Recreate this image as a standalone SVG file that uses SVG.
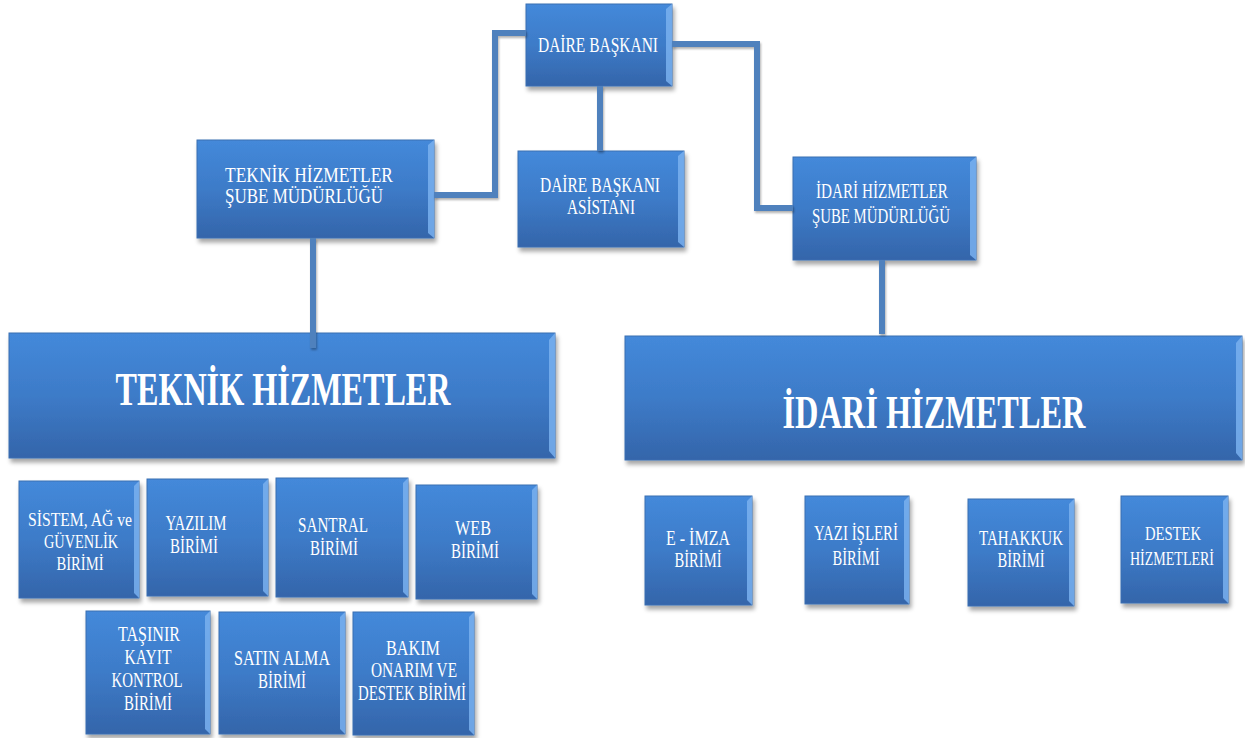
<svg xmlns="http://www.w3.org/2000/svg" width="1245" height="738" viewBox="0 0 1245 738">
<defs>
<linearGradient id="g" x1="0" y1="0" x2="0" y2="1">
<stop offset="0" stop-color="#4489da"/>
<stop offset="0.5" stop-color="#3d7bc8"/>
<stop offset="1" stop-color="#3465aa"/>
</linearGradient>
<filter id="sh" x="-10%" y="-10%" width="125%" height="130%">
<feDropShadow dx="2" dy="4" stdDeviation="2" flood-color="#000" flood-opacity="0.35"/>
</filter>
<filter id="lsh" filterUnits="userSpaceOnUse" x="0" y="0" width="1245" height="738">
<feDropShadow dx="1" dy="2" stdDeviation="1" flood-color="#000" flood-opacity="0.3"/>
</filter>
</defs>
<style>
.box{fill:url(#g);stroke:#3a6fb2;stroke-width:1;filter:url(#sh)}
.bev{fill:#79b0ef;opacity:0.85}
text{font-family:"Liberation Serif","Times New Roman",serif;fill:#fff;text-anchor:middle}
.s{font-size:21px}
.t{font-size:19px}
.m{font-size:20px}
.b{font-size:46px;font-weight:bold}
.con{fill:none;stroke:#4f81bd;stroke-width:6;filter:url(#lsh)}
</style>
<rect width="1245" height="738" fill="#fff"/>

<g id="daire-baskani">
<rect class="box" x="526" y="4" width="146" height="82"/>
<path class="bev" d="M666 9 L672 4 L672 86 L666 81 Z"/>
<text class="m" x="598" y="52" textLength="120" lengthAdjust="spacingAndGlyphs">DAİRE  BAŞKANI</text>
</g>

<g id="daire-baskani-asistani">
<rect class="box" x="518" y="151" width="166" height="96"/>
<path class="bev" d="M678 156 L684 151 L684 247 L678 242 Z"/>
<text class="m" x="600" y="192" textLength="120" lengthAdjust="spacingAndGlyphs">DAİRE  BAŞKANI</text>
<text class="m" x="601" y="214" textLength="68" lengthAdjust="spacingAndGlyphs">ASİSTANI</text>
</g>

<g id="teknik-sube">
<rect class="box" x="197" y="140" width="237" height="98"/>
<path class="bev" d="M428 145 L434 140 L434 238 L428 233 Z"/>
<text class="m" x="309" y="182" textLength="168" lengthAdjust="spacingAndGlyphs">TEKNİK HİZMETLER</text>
<text class="m" x="304" y="203" textLength="158" lengthAdjust="spacingAndGlyphs">ŞUBE MÜDÜRLÜĞÜ</text>
</g>

<g id="idari-sube">
<rect class="box" x="793" y="157" width="183" height="103"/>
<path class="bev" d="M970 162 L976 157 L976 260 L970 255 Z"/>
<text class="m" x="882" y="198" textLength="132" lengthAdjust="spacingAndGlyphs">İDARİ HİZMETLER</text>
<text class="m" x="881" y="223" textLength="138" lengthAdjust="spacingAndGlyphs">ŞUBE  MÜDÜRLÜĞÜ</text>
</g>

<g id="teknik-hizmetler">
<rect class="box" x="9" y="333" width="546" height="125"/>
<path class="bev" d="M549 340 L555 333 L555 458 L549 451 Z"/>
<text class="b" x="283" y="405" textLength="335" lengthAdjust="spacingAndGlyphs">TEKNİK  HİZMETLER</text>
</g>

<g id="idari-hizmetler">
<rect class="box" x="625" y="336" width="617" height="124"/>
<path class="bev" d="M1236 343 L1242 336 L1242 460 L1236 453 Z"/>
<text class="b" x="934" y="428" textLength="303" lengthAdjust="spacingAndGlyphs">İDARİ  HİZMETLER</text>
</g>

<g id="sistem">
<rect class="box" x="19" y="481" width="120" height="117"/>
<path class="bev" d="M134 486 L139 481 L139 598 L134 593 Z"/>
<text class="t" x="80" y="526" textLength="104" lengthAdjust="spacingAndGlyphs">SİSTEM,  AĞ  ve</text>
<text class="t" x="81" y="548" textLength="74" lengthAdjust="spacingAndGlyphs">GÜVENLİK</text>
<text class="t" x="80" y="570" textLength="47" lengthAdjust="spacingAndGlyphs">BİRİMİ</text>
</g>

<g id="yazilim">
<rect class="box" x="147" y="479" width="121" height="117"/>
<path class="bev" d="M263 484 L268 479 L268 596 L263 591 Z"/>
<text class="s" x="196" y="530" textLength="61" lengthAdjust="spacingAndGlyphs">YAZILIM</text>
<text class="s" x="194" y="553" textLength="48" lengthAdjust="spacingAndGlyphs">BİRİMİ</text>
</g>

<g id="santral">
<rect class="box" x="276" y="478" width="132" height="119"/>
<path class="bev" d="M403 483 L408 478 L408 597 L403 592 Z"/>
<text class="s" x="333" y="532" textLength="70" lengthAdjust="spacingAndGlyphs">SANTRAL</text>
<text class="s" x="334" y="555" textLength="48" lengthAdjust="spacingAndGlyphs">BİRİMİ</text>
</g>

<g id="web">
<rect class="box" x="416" y="485" width="121" height="114"/>
<path class="bev" d="M532 490 L537 485 L537 599 L532 594 Z"/>
<text class="s" x="473" y="535" textLength="36" lengthAdjust="spacingAndGlyphs">WEB</text>
<text class="s" x="475" y="558" textLength="48" lengthAdjust="spacingAndGlyphs">BİRİMİ</text>
</g>

<g id="tasinir">
<rect class="box" x="86" y="611" width="124" height="123"/>
<path class="bev" d="M205 616 L210 611 L210 734 L205 729 Z"/>
<text class="s" x="149" y="641" textLength="62" lengthAdjust="spacingAndGlyphs">TAŞINIR</text>
<text class="s" x="148" y="664" textLength="47" lengthAdjust="spacingAndGlyphs">KAYIT</text>
<text class="s" x="147" y="687" textLength="71" lengthAdjust="spacingAndGlyphs">KONTROL</text>
<text class="s" x="148" y="710" textLength="48" lengthAdjust="spacingAndGlyphs">BİRİMİ</text>
</g>

<g id="satin-alma">
<rect class="box" x="219" y="612" width="126" height="122"/>
<path class="bev" d="M340 617 L345 612 L345 734 L340 729 Z"/>
<text class="s" x="282" y="665" textLength="96" lengthAdjust="spacingAndGlyphs">SATIN  ALMA</text>
<text class="s" x="282" y="688" textLength="48" lengthAdjust="spacingAndGlyphs">BİRİMİ</text>
</g>

<g id="bakim">
<rect class="box" x="353" y="612" width="121" height="123"/>
<path class="bev" d="M469 617 L474 612 L474 735 L469 730 Z"/>
<text class="s" x="413" y="655" textLength="54" lengthAdjust="spacingAndGlyphs">BAKIM</text>
<text class="s" x="414" y="677" textLength="86" lengthAdjust="spacingAndGlyphs">ONARIM  VE</text>
<text class="s" x="412" y="700" textLength="108" lengthAdjust="spacingAndGlyphs">DESTEK  BİRİMİ</text>
</g>

<g id="e-imza">
<rect class="box" x="645" y="496" width="107" height="109"/>
<path class="bev" d="M747 501 L752 496 L752 605 L747 600 Z"/>
<text class="s" x="698" y="545" textLength="64" lengthAdjust="spacingAndGlyphs">E - İMZA</text>
<text class="s" x="698" y="567" textLength="47" lengthAdjust="spacingAndGlyphs">BİRİMİ</text>
</g>

<g id="yazi-isleri">
<rect class="box" x="805" y="496" width="104" height="108"/>
<path class="bev" d="M904 501 L909 496 L909 604 L904 599 Z"/>
<text class="s" x="856" y="540" textLength="84" lengthAdjust="spacingAndGlyphs">YAZI İŞLERİ</text>
<text class="s" x="856" y="565" textLength="47" lengthAdjust="spacingAndGlyphs">BİRİMİ</text>
</g>

<g id="tahakkuk">
<rect class="box" x="968" y="499" width="106" height="107"/>
<path class="bev" d="M1069 504 L1074 499 L1074 606 L1069 601 Z"/>
<text class="s" x="1021" y="545" textLength="84" lengthAdjust="spacingAndGlyphs">TAHAKKUK</text>
<text class="s" x="1021" y="567" textLength="47" lengthAdjust="spacingAndGlyphs">BİRİMİ</text>
</g>

<g id="destek-hizmetleri">
<rect class="box" x="1121" y="496" width="107" height="107"/>
<path class="bev" d="M1223 501 L1228 496 L1228 603 L1223 598 Z"/>
<text class="t" x="1173" y="540" textLength="56" lengthAdjust="spacingAndGlyphs">DESTEK</text>
<text class="t" x="1172" y="565" textLength="84" lengthAdjust="spacingAndGlyphs">HİZMETLERİ</text>
</g>

<g id="connectors">
<path class="con" d="M526 33 L495 33 L495 195 L434 195"/>
<path class="con" d="M672 44 L757 44 L757 208 L793 208"/>
<path class="con" d="M600 86 L600 151"/>
<path class="con" d="M313 238 L313 348"/>
<path class="con" d="M882 260 L882 334"/>
</g>
</svg>
